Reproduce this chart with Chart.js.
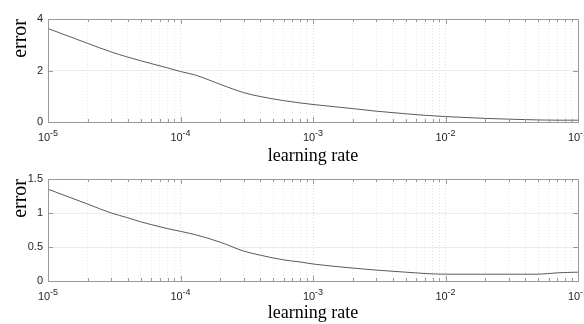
<!DOCTYPE html>
<html>
<head>
<meta charset="utf-8">
<script src="https://cdn.jsdelivr.net/npm/chart.js@4"></script>
<style>
  html, body { margin: 0; padding: 0; background: #fff; }
  .box { position: absolute; left: 0; width: 584px; }
  #top { top: 0; height: 165px; }
  #bottom { top: 160px; height: 164px; }
</style>
</head>
<body>
<div class="box" id="top"><canvas id="chartTop"></canvas></div>
<div class="box" id="bottom"><canvas id="chartBottom"></canvas></div>
<script>
// learning rates sampled along the curves
const rates = [1e-5, 2e-5, 3e-5, 4e-5, 5e-5, 6e-5, 8e-5,
    1e-4, 1.3e-4, 2e-4, 3e-4, 4e-4, 6e-4, 8e-4,
    1e-3, 2e-3, 3e-3, 5e-3, 7e-3,
    1e-2, 2e-2, 3e-2, 5e-2, 7e-2, 1e-1];

const errorTop = [3.63, 3.05, 2.72, 2.52, 2.38, 2.27, 2.10,
    1.96, 1.82, 1.46, 1.14, 0.99, 0.83, 0.74,
    0.68, 0.52, 0.42, 0.32, 0.26,
    0.21, 0.14, 0.11, 0.08, 0.07, 0.07];

const errorBottom = [1.35, 1.13, 1.00, 0.93, 0.87, 0.83, 0.77,
    0.73, 0.68, 0.57, 0.44, 0.38, 0.31, 0.28,
    0.25, 0.19, 0.16, 0.13, 0.11,
    0.10, 0.10, 0.10, 0.10, 0.12, 0.13];

// x ticks: every 1..9 step in each decade, labels on decades only
const decadeExps = [-5, -4, -3, -2, -1];
const xTickValues = [];
decadeExps.forEach(e => {
    for (let m = 1; m <= 9; m++) {
        if (e === -1 && m > 1) break;
        xTickValues.push(Number((m * Math.pow(10, e)).toPrecision(3)));
    }
});

const yTicksTop = [0, 2, 4];
const yTicksBottom = [0, 0.5, 1, 1.5];

function decadeOf(v) {
    const e = Math.log10(v);
    return Math.abs(e - Math.round(e)) < 1e-9 ? Math.round(e) : null;
}

const sans = "'Liberation Sans', Arial, sans-serif";
const serif = "'Liberation Serif', 'Times New Roman', serif";

// box around plot area, inside tick marks and 10^n labels
const axesBox = {
    id: 'axesBox',
    afterDraw(chart) {
        const { ctx, chartArea: a, scales } = chart;
        ctx.save();
        ctx.strokeStyle = '#9a9a9a';
        ctx.lineWidth = 1;
        ctx.beginPath();
        scales.x.ticks.forEach(t => {
            const px = Math.round(scales.x.getPixelForValue(t.value)) + 0.5;
            const len = decadeOf(t.value) !== null ? 5 : 3;
            ctx.moveTo(px, a.bottom); ctx.lineTo(px, a.bottom - len);
            ctx.moveTo(px, a.top); ctx.lineTo(px, a.top + len);
        });
        scales.y.ticks.forEach(t => {
            const py = Math.round(scales.y.getPixelForValue(t.value)) + 0.5;
            ctx.moveTo(a.left, py); ctx.lineTo(a.left + 5, py);
            ctx.moveTo(a.right, py); ctx.lineTo(a.right - 5, py);
        });
        ctx.stroke();
        ctx.strokeRect(Math.round(a.left) + 0.5, Math.round(a.top) + 0.5,
            Math.round(a.right - a.left), Math.round(a.bottom - a.top));

        ctx.fillStyle = '#262626';
        ctx.textBaseline = 'alphabetic';
        ctx.textAlign = 'left';
        decadeExps.forEach(e => {
            const px = scales.x.getPixelForValue(Math.pow(10, e));
            const base = '10', exp = String(e);
            ctx.font = '11px ' + sans;
            const wb = ctx.measureText(base).width;
            ctx.font = '9px ' + sans;
            const we = ctx.measureText(exp).width;
            const x0 = px - (wb + we) / 2;
            ctx.font = '11px ' + sans;
            ctx.fillText(base, x0, a.bottom + 19);
            ctx.font = '9px ' + sans;
            ctx.fillText(exp, x0 + wb, a.bottom + 14);
        });
        ctx.restore();
    }
};

function makeChart(canvasId, values, yTicks, yMax, xTitlePad) {
    return new Chart(document.getElementById(canvasId), {
        type: 'line',
        data: {
            datasets: [{
                data: rates.map((r, i) => ({ x: r, y: values[i] })),
                borderColor: '#5a5a5a',
                borderWidth: 1,
                pointRadius: 0,
                cubicInterpolationMode: 'monotone'
            }]
        },
        options: {
            responsive: true,
            maintainAspectRatio: false,
            animation: false,
            layout: { padding: { top: 19, right: 6, left: 0, bottom: 0 } },
            plugins: { legend: { display: false }, tooltip: { enabled: false } },
            scales: {
                x: {
                    type: 'logarithmic',
                    min: 1e-5,
                    max: 1e-1,
                    afterBuildTicks: scale => { scale.ticks = xTickValues.map(v => ({ value: v, major: decadeOf(v) !== null })); },
                    afterFit: scale => { scale.height = 43; scale.paddingLeft = 0; scale.paddingRight = 0; },
                    ticks: { display: false },
                    grid: {
                        drawTicks: false,
                        color: ctx => (ctx.tick && decadeOf(ctx.tick.value) !== null) ? '#dadada' : '#e6e6e6',
                        lineWidth: 1
                    },
                    border: { display: false, dash: [1, 2] },
                    title: {
                        display: true,
                        text: 'learning rate',
                        color: '#000',
                        font: { family: serif, size: 18, lineHeight: 1 },
                        padding: { top: 0, bottom: xTitlePad }
                    }
                },
                y: {
                    min: 0,
                    max: yMax,
                    afterBuildTicks: scale => { scale.ticks = yTicks.map(v => ({ value: v })); },
                    afterFit: scale => { scale.width = 48; scale.paddingTop = 0; scale.paddingBottom = 0; },
                    ticks: {
                        padding: 5,
                        color: '#262626',
                        font: { family: sans, size: 11 },
                        callback: v => String(v)
                    },
                    grid: { drawTicks: false, color: '#ececec', lineWidth: 1 },
                    border: { display: false },
                    title: {
                        display: true,
                        text: 'error',
                        align: 'end',
                        color: '#000',
                        font: { family: serif, size: 20, lineHeight: 1 },
                        padding: { top: 11, bottom: 0 }
                    }
                }
            }
        },
        plugins: [axesBox]
    });
}

makeChart('chartTop', errorTop, yTicksTop, 4, 0);
makeChart('chartBottom', errorBottom, yTicksBottom, 1.5, 2);
</script>
</body>
</html>
